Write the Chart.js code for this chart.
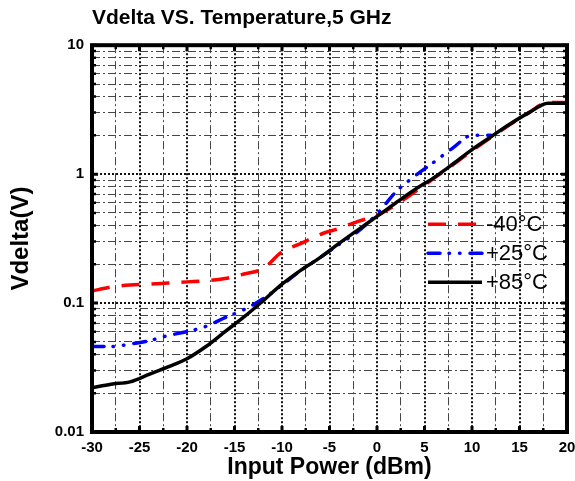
<!DOCTYPE html>
<html>
<head>
<meta charset="utf-8">
<script src="https://cdn.jsdelivr.net/npm/chart.js@4.4.1/dist/chart.umd.min.js"></script>
<style>
  html, body { margin: 0; padding: 0; background: #fff; }
  #wrap { width: 575px; height: 481px; }
</style>
</head>
<body>
<div id="wrap"><canvas id="vdelta-chart"></canvas></div>
<script>
// input power (dBm), shared by all three curves
const inputPower = [-30, -28, -26, -24, -22, -20, -18, -16, -14, -12, -10, -8, -6, -4, -2, 0, 2, 4, 6, 8, 10, 12, 14, 16, 18, 20];

// Vdelta (V) per temperature
const vMinus40 = [0.124, 0.133, 0.138, 0.140, 0.143, 0.146, 0.149, 0.155, 0.168, 0.185, 0.25, 0.29, 0.34, 0.38, 0.43, 0.48, 0.58, 0.73, 0.93, 1.18, 1.52, 1.93, 2.42, 3.0, 3.6, 3.6];
const vPlus25 = [0.046, 0.046, 0.048, 0.051, 0.056, 0.060, 0.066, 0.077, 0.089, 0.108, 0.138, 0.18, 0.225, 0.285, 0.36, 0.49, 0.73, 0.97, 1.24, 1.6, 2.0, 2.0, null, null, null, null];
const vPlus85 = [0.022, 0.0235, 0.0245, 0.028, 0.032, 0.037, 0.046, 0.06, 0.078, 0.104, 0.14, 0.18, 0.225, 0.29, 0.37, 0.47, 0.6, 0.76, 0.94, 1.2, 1.55, 1.95, 2.45, 3.0, 3.55, 3.55];

const xTickLabels = ['-30', '-25', '-20', '-15', '-10', '-5', '0', '5', '10', '15', '20'];
const yTickLabels = ['0.01', '0.1', '1', '10'];

const FONT = "'Liberation Sans', Arial, sans-serif";

const series = [
    { label: '-40\u00B0C', data: vMinus40, color: '#ff0000', dash: [18, 12], cap: 'butt', order: 2 },
    { label: '+25\u00B0C', data: vPlus25, color: '#0000ff', dash: [12, 9, 0.5, 10, 0.5, 10], cap: 'round', order: 1 },
    { label: '+85\u00B0C', data: vPlus85, color: '#000000', dash: [], cap: 'butt', order: 0 }
];

function isMajorX(v) { return Math.abs(v % 5) < 1e-6; }
function isMajorY(v) { const l = Math.log10(v); return Math.abs(l - Math.round(l)) < 1e-6; }

// frame + inward ticks on all four sides
const framePlugin = {
    id: 'frame',
    afterDatasetsDraw(chart) {
        const { ctx, chartArea: a, scales: { x, y } } = chart;
        ctx.save();
        ctx.strokeStyle = '#000';
        x.ticks.forEach(t => {
            const px = x.getPixelForValue(t.value);
            const major = isMajorX(t.value);
            ctx.lineWidth = major ? 3 : 2.5;
            const len = major ? 6 : 4;
            ctx.beginPath();
            ctx.moveTo(px, a.bottom); ctx.lineTo(px, a.bottom - len);
            ctx.moveTo(px, a.top); ctx.lineTo(px, a.top + len);
            ctx.stroke();
        });
        y.ticks.forEach(t => {
            const py = y.getPixelForValue(t.value);
            const major = isMajorY(t.value);
            ctx.lineWidth = major ? 3 : 2.5;
            const len = major ? 6 : 4;
            ctx.beginPath();
            ctx.moveTo(a.left, py); ctx.lineTo(a.left + len, py);
            ctx.moveTo(a.right, py); ctx.lineTo(a.right - len, py);
            ctx.stroke();
        });
        ctx.lineWidth = 4;
        ctx.strokeRect(a.left, a.top, a.right - a.left, a.bottom - a.top);
        ctx.restore();
    }
};

// legend drawn inside the plot, right side
const legendPlugin = {
    id: 'insideLegend',
    afterDatasetsDraw(chart) {
        const { ctx, chartArea: a } = chart;
        const x0 = a.right - 139;
        ctx.save();
        series.forEach((s, i) => {
            const yy = a.top + 179 + i * 29;
            ctx.strokeStyle = s.color;
            ctx.lineWidth = 3.5;
            ctx.lineCap = s.cap;
            ctx.setLineDash(s.dash);
            ctx.beginPath();
            ctx.moveTo(x0, yy);
            ctx.lineTo(x0 + 54, yy);
            ctx.stroke();
            ctx.setLineDash([]);
            ctx.fillStyle = '#000';
            ctx.font = '22px ' + FONT;
            ctx.textBaseline = 'middle';
            ctx.fillText(s.label, x0 + 58, yy + 1);
        });
        ctx.restore();
    }
};

new Chart(document.getElementById('vdelta-chart').getContext('2d'), {
    type: 'line',
    plugins: [framePlugin, legendPlugin],
    data: {
        labels: inputPower,
        datasets: series.map(s => ({
            label: s.label,
            data: s.data.map((v, i) => ({ x: inputPower[i], y: v })),
            borderColor: s.color,
            backgroundColor: s.color,
            borderWidth: 3.5,
            borderDash: s.dash,
            borderCapStyle: s.cap,
            pointRadius: 0,
            cubicInterpolationMode: 'monotone',
            spanGaps: false,
            order: s.order
        }))
    },
    options: {
        responsive: true,
        maintainAspectRatio: false,
        animation: false,
        layout: { padding: { right: 0 } },
        plugins: {
            legend: { display: false },
            tooltip: { enabled: false },
            title: {
                display: true,
                text: 'Vdelta VS. Temperature,5 GHz',
                align: 'start',
                fullSize: false,
                color: '#000',
                font: { family: FONT, size: 21, weight: 'bold' },
                padding: { top: 6, bottom: 14 }
            }
        },
        scales: {
            x: {
                type: 'linear',
                min: -30,
                max: 20,
                afterFit: s => { s.height = 49; s.paddingRight = 8; s.paddingLeft = 0; },
                ticks: {
                    stepSize: 2.5,
                    autoSkip: false,
                    maxRotation: 0,
                    padding: 7,
                    color: '#000',
                    font: { family: FONT, size: 15, weight: 'bold' },
                    callback: v => isMajorX(v) ? xTickLabels[Math.round((v + 30) / 5)] : ''
                },
                grid: {
                    drawTicks: false,
                    lineWidth: c => (c.tick && isMajorX(c.tick.value)) ? 2 : 1,
                    color: c => (c.tick && isMajorX(c.tick.value)) ? '#111' : '#444'
                },
                border: {
                    display: false,
                    dash: c => (c.tick && isMajorX(c.tick.value)) ? [2, 2] : [8, 3, 2, 3]
                },
                title: {
                    display: true,
                    text: 'Input Power (dBm)',
                    color: '#000',
                    font: { family: FONT, size: 23, weight: 'bold' },
                    padding: 0
                }
            },
            y: {
                type: 'logarithmic',
                min: 0.01,
                max: 10,
                afterFit: s => { s.width = 92; },
                afterBuildTicks: s => {
                    const t = [];
                    for (let e = -2; e <= 1; e++) {
                        for (let m = 1; m <= 9; m++) {
                            const v = +(m * Math.pow(10, e)).toPrecision(3);
                            if (v > 10.0001) break;
                            t.push({ value: v });
                        }
                    }
                    s.ticks = t;
                },
                ticks: {
                    autoSkip: false,
                    padding: 8,
                    color: '#000',
                    font: { family: FONT, size: 15, weight: 'bold' },
                    callback: v => isMajorY(v) ? yTickLabels[Math.round(Math.log10(v)) + 2] : ''
                },
                grid: {
                    drawTicks: false,
                    lineWidth: c => (c.tick && isMajorY(c.tick.value)) ? 2 : 1,
                    color: c => (c.tick && isMajorY(c.tick.value)) ? '#111' : '#444'
                },
                border: {
                    display: false,
                    dash: c => (c.tick && isMajorY(c.tick.value)) ? [2, 2] : [8, 3, 2, 3]
                },
                title: {
                    display: true,
                    text: 'Vdelta(V)',
                    color: '#000',
                    font: { family: FONT, size: 24, weight: 'bold' },
                    padding: { top: 7, bottom: 7 }
                }
            }
        }
    }
});
</script>
</body>
</html>
